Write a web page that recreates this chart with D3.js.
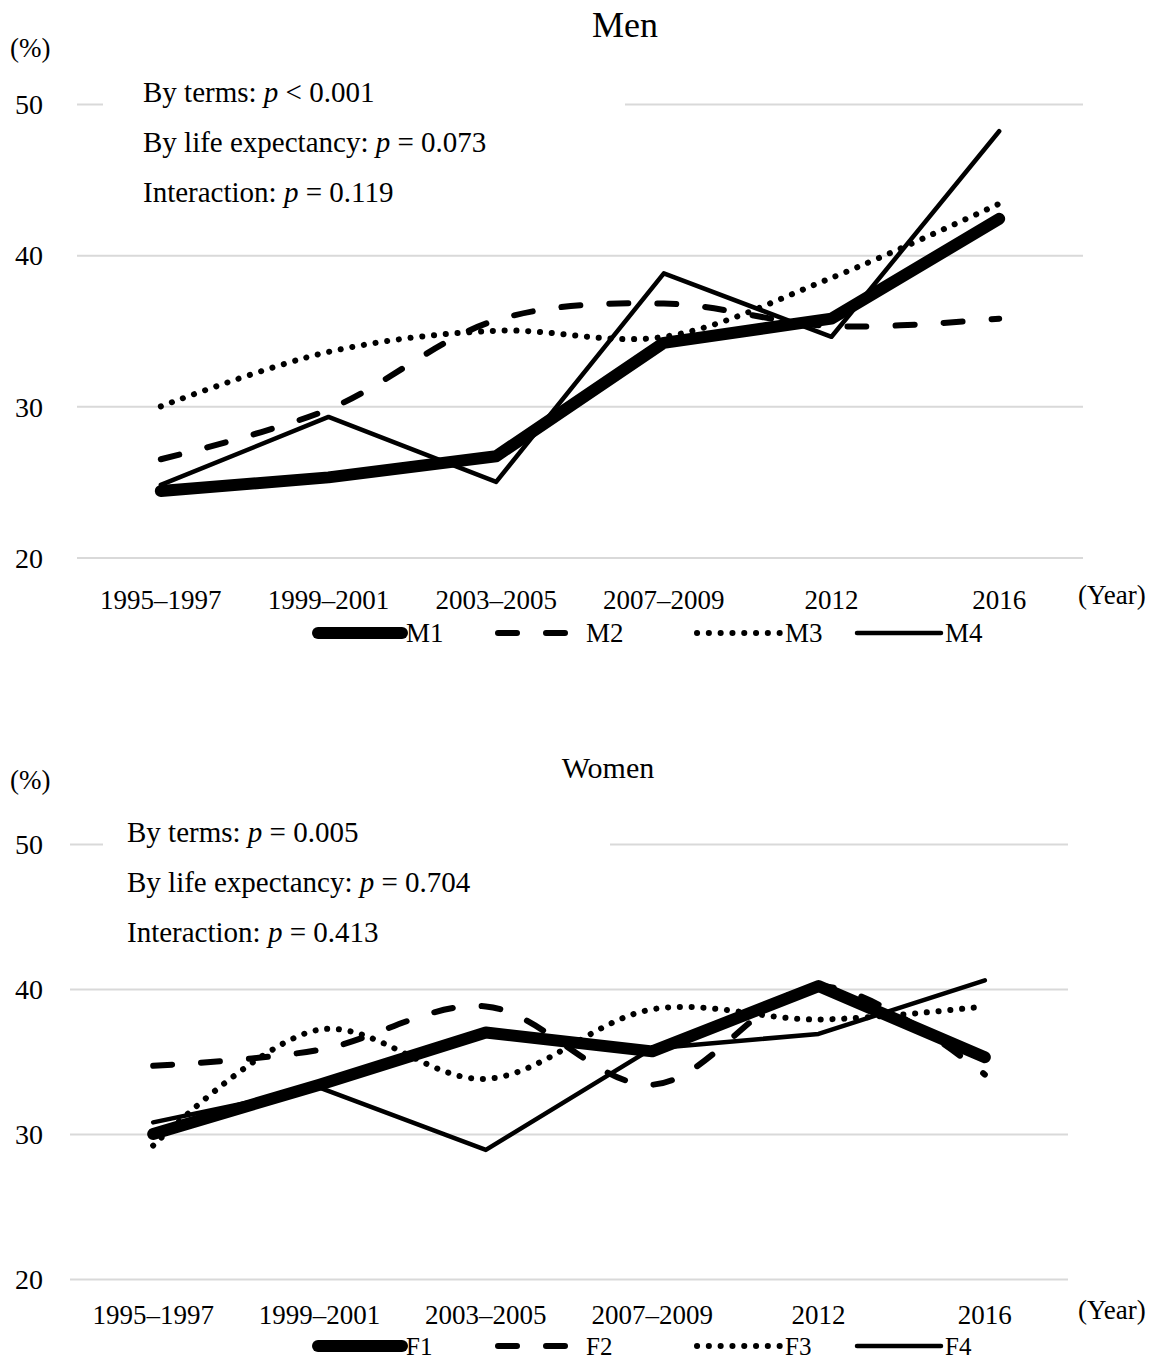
<!DOCTYPE html>
<html>
<head>
<meta charset="utf-8">
<script src="https://cdn.jsdelivr.net/npm/d3@7"></script>
<style>
  body { margin: 0; background: #fff; }
  svg text { font-family: "Liberation Serif", "DejaVu Serif", serif !important; fill: #000; }
</style>
</head>
<body>
<svg id="chart" width="1164" height="1362"></svg>
<script>
// data
var periods = ["1995–1997", "1999–2001", "2003–2005", "2007–2009", "2012", "2016"];
var yTicks = [20, 30, 40, 50];

var M1 = [24.4, 25.3, 26.7, 34.2, 35.8, 42.4];
var M2 = [26.5, 29.8, 35.7, 36.8, 35.3, 35.8];
var M3 = [30.0, 33.6, 35.0, 34.6, 38.5, 43.4];
var M4 = [24.8, 29.3, 25.0, 38.8, 34.6, 48.2];

var F1 = [30.0, 33.4, 37.0, 35.7, 40.2, 35.3];
var F2 = [34.7, 35.8, 38.8, 33.4, 40.2, 34.1];
var F3 = [29.2, 37.2, 33.8, 38.6, 37.9, 38.8];
var F4 = [30.8, 33.2, 28.9, 35.9, 36.9, 40.6];

var menStats = ["By terms: |p| < 0.001", "By life expectancy: |p| = 0.073", "Interaction: |p| = 0.119"];
var womenStats = ["By terms: |p| = 0.005", "By life expectancy: |p| = 0.704", "Interaction: |p| = 0.413"];

// line styles per series slot
var styles = [
    {w: 12, dash: null, smooth: false},
    {w: 6, dash: "19,29", smooth: true},
    {w: 6, dash: "0.1,11.7", smooth: true},
    {w: 4.5, dash: null, smooth: false}
];

var svg = d3.select("#chart");

function drawPanel(opt) {
    var g = svg.append("g");
    var x = d3.scaleBand().domain(periods).range([opt.x0, opt.x1]);
    var y = d3.scaleLinear().domain([20, 50]).range([opt.yBottom, opt.yTop]);
    var cx = function(i) { return x(periods[i]) + x.bandwidth() / 2; };

    // gridlines + y labels
    var yAxis = d3.axisLeft(y).tickValues(yTicks).tickSize(-(opt.x1 - opt.x0)).tickPadding(opt.x0 - 43);
    var ga = g.append("g").attr("transform", "translate(" + opt.x0 + ",0)").call(yAxis)
        .attr("font-family", null).attr("font-size", null);
    ga.select(".domain").remove();
    ga.selectAll(".tick line").attr("stroke", "#d9d9d9").attr("stroke-width", 2);
    ga.selectAll(".tick text").style("font-size", "28px").attr("dy", "0.35em");

    // x labels
    var xAxis = d3.axisBottom(x).tickSize(0).tickPadding(0);
    var gx = g.append("g").attr("transform", "translate(0," + opt.xLabelY + ")").call(xAxis)
        .attr("font-family", null).attr("font-size", null);
    gx.select(".domain").remove();
    gx.selectAll(".tick text").style("font-size", "27px").attr("dy", "0.35em");

    // title and axis units
    g.append("text").attr("x", opt.titleX).attr("y", opt.titleY).attr("text-anchor", "middle")
        .style("font-size", opt.titleSize + "px").text(opt.title);
    g.append("text").attr("x", 10).attr("y", opt.pctY).attr("dy", "0.35em")
        .style("font-size", "27px").text("(%)");
    g.append("text").attr("x", 1078).attr("y", opt.yearY).attr("dy", "0.35em")
        .style("font-size", "27px").text("(Year)");

    // white box hides the 50 gridline behind the stats
    g.append("rect").attr("x", 103).attr("y", y(50) - 25)
        .attr("width", opt.boxW).attr("height", 140).attr("fill", "#fff");

    opt.stats.forEach(function(s, i) {
        var parts = s.split("|");
        var t = g.append("text").attr("x", opt.statX).attr("y", opt.statY + i * 50)
            .style("font-size", "29px");
        t.append("tspan").text(parts[0]);
        t.append("tspan").style("font-style", "italic").text(parts[1]);
        t.append("tspan").text(parts[2]);
    });

    // lines
    opt.series.forEach(function(vals, k) {
        var st = styles[k];
        var line = d3.line()
            .x(function(d, i) { return cx(i); })
            .y(function(d) { return y(d); })
            .curve(st.smooth ? d3.curveCatmullRom.alpha(0.5) : d3.curveLinear);
        g.append("path").datum(vals)
            .attr("d", line)
            .attr("fill", "none")
            .attr("stroke", "#000")
            .attr("stroke-width", st.w)
            .attr("stroke-linecap", "round")
            .attr("stroke-linejoin", "round")
            .attr("stroke-dasharray", st.dash);
    });

    // legend
    var legX = [318, 498, 697, 857];
    var lg = g.append("g").attr("transform", "translate(0," + opt.legendY + ")");
    opt.names.forEach(function(n, k) {
        var st = styles[k];
        lg.append("line").attr("x1", legX[k]).attr("x2", legX[k] + 84)
            .attr("stroke", "#000").attr("stroke-width", st.w)
            .attr("stroke-linecap", "round").attr("stroke-dasharray", st.dash);
        lg.append("text").attr("x", legX[k] + 88).attr("dy", "0.35em")
            .style("font-size", opt.legendSize + "px").text(n);
    });
}

drawPanel({
    title: "Men", titleX: 625, titleY: 37, titleSize: 36,
    x0: 77, x1: 1083, yBottom: 557.5, yTop: 104,
    xLabelY: 600, pctY: 48, yearY: 595,
    stats: menStats, statX: 143, statY: 102, boxW: 522,
    series: [M1, M2, M3, M4], names: ["M1", "M2", "M3", "M4"],
    legendY: 633, legendSize: 27
});

drawPanel({
    title: "Women", titleX: 608, titleY: 778, titleSize: 30,
    x0: 70, x1: 1068, yBottom: 1279, yTop: 844,
    xLabelY: 1315, pctY: 780, yearY: 1310,
    stats: womenStats, statX: 127, statY: 842, boxW: 507,
    series: [F1, F2, F3, F4], names: ["F1", "F2", "F3", "F4"],
    legendY: 1346, legendSize: 25
});
</script>
</body>
</html>
